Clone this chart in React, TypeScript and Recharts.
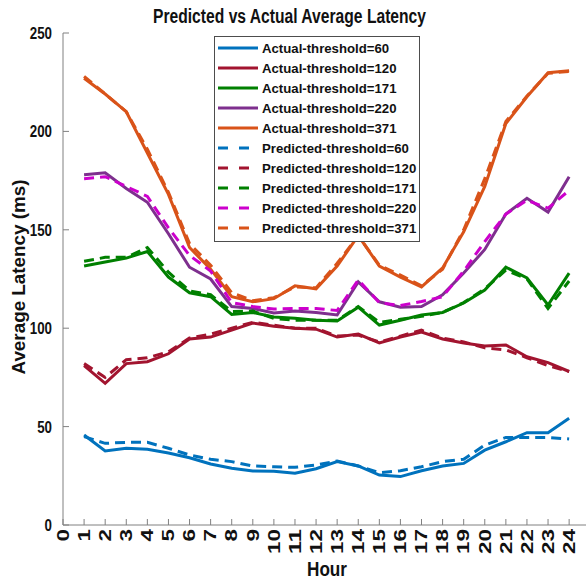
import React from 'react';
import { LineChart, Line, XAxis, YAxis, Legend } from 'recharts';

const hours = [1, 2, 3, 4, 5, 6, 7, 8, 9, 10, 11, 12, 13, 14, 15, 16, 17, 18, 19, 20, 21, 22, 23, 24];
const xTicks = [0, 1, 2, 3, 4, 5, 6, 7, 8, 9, 10, 11, 12, 13, 14, 15, 16, 17, 18, 19, 20, 21, 22, 23, 24];
const yTicks = [0, 50, 100, 150, 200, 250];

const actual60 = [45.7, 37.6, 39, 38.5, 36.6, 34.2, 31, 28.8, 27.4, 27.3, 26.3, 28.6, 32.2, 30, 25.4, 24.6, 27.6, 30, 31.3, 38, 42.3, 46.9, 46.9, 54.2];
const actual120 = [81, 72, 82, 83, 87, 94.5, 95.5, 99, 102.6, 101, 100, 99.5, 95.5, 97, 92.5, 95.5, 98, 94.5, 92.5, 91, 91.5, 85.5, 82.5, 78];
const actual171 = [131.6, 133.6, 135.6, 139, 126, 118, 116, 107, 108, 105.7, 105, 104, 103.7, 110.7, 101.6, 104, 106.7, 108, 112.8, 119.4, 131, 125.5, 111.8, 128];
const actual220 = [178, 179, 171, 164, 148, 131, 125, 111, 110, 107.7, 108.7, 108, 106.7, 123.5, 113.4, 110.7, 111, 117, 128, 140, 158, 166, 159, 177];
const actual371 = [227, 219, 210, 189, 168, 141, 130, 116, 113.4, 115, 121.5, 120, 131.6, 147, 131.6, 126, 121, 130.6, 149, 172, 204, 217.6, 229.8, 230.8];

const predicted60 = [44.9, 41.5, 42, 42, 39, 35.6, 33.4, 32.2, 30, 29.6, 29.3, 30.5, 32.5, 30, 26.6, 27.6, 29.6, 32.2, 33.4, 40.6, 44.5, 44.5, 44.5, 43.7];
const predicted120 = [82, 75, 84, 85, 88, 95, 97, 100, 103, 101.5, 100, 100, 96, 96.5, 93, 96, 99, 95, 93, 90, 89, 85, 81, 78];
const predicted171 = [134, 136, 136, 141, 128.5, 119, 117, 108.5, 108.7, 105, 104, 104, 104, 111, 103, 104.5, 106, 108, 113, 120, 129.5, 125, 110, 124];
const predicted220 = [176, 177, 172, 167, 151, 137, 129, 113, 111, 109.7, 110, 110, 109, 124.5, 113, 111.5, 113.6, 116, 129, 144, 158, 165, 161, 170];
const predicted371 = [228, 219, 210, 191, 169, 143, 132, 118, 114, 115.5, 121, 120.5, 133, 147, 132, 127, 121.5, 130, 150, 176, 205, 218, 229.5, 230.5];

const FONT = "'Liberation Sans', Arial, Helvetica, sans-serif";
const TEXT = '#111';
const AXIS = '#808080';

const series = [
  { key: 'a60', name: 'Actual-threshold=60', color: '#0072BD', dashed: false, values: actual60 },
  { key: 'a120', name: 'Actual-threshold=120', color: '#A2142F', dashed: false, values: actual120 },
  { key: 'a171', name: 'Actual-threshold=171', color: '#008000', dashed: false, values: actual171 },
  { key: 'a220', name: 'Actual-threshold=220', color: '#7E2F8E', dashed: false, values: actual220 },
  { key: 'a371', name: 'Actual-threshold=371', color: '#D95319', dashed: false, values: actual371 },
  { key: 'p60', name: 'Predicted-threshold=60', color: '#0072BD', dashed: true, values: predicted60 },
  { key: 'p120', name: 'Predicted-threshold=120', color: '#A2142F', dashed: true, values: predicted120 },
  { key: 'p171', name: 'Predicted-threshold=171', color: '#008000', dashed: true, values: predicted171 },
  { key: 'p220', name: 'Predicted-threshold=220', color: '#CC00CC', dashed: true, values: predicted220 },
  { key: 'p371', name: 'Predicted-threshold=371', color: '#D95319', dashed: true, values: predicted371 },
];

const data = hours.map((h, i) => {
  const row: Record<string, number> = { hour: h };
  series.forEach((s) => {
    row[s.key] = s.values[i];
  });
  return row;
});

function XTick({ x, payload }: any) {
  const label = String(payload.value);
  return (
    <text
      transform={`translate(${x},529) rotate(-90)`}
      textAnchor="end"
      dy="0.35em"
      fontSize={16.5}
      fontWeight="bold"
      fontFamily={FONT}
      fill={TEXT}
      textLength={label.length * 12.5}
      lengthAdjust="spacingAndGlyphs"
    >
      {label}
    </text>
  );
}

function YTick({ y, payload }: any) {
  const label = String(payload.value);
  return (
    <text
      x={52}
      y={y}
      dy="0.36em"
      textAnchor="end"
      fontSize={16.5}
      fontWeight="bold"
      fontFamily={FONT}
      fill={TEXT}
      textLength={label.length * 7.4}
      lengthAdjust="spacingAndGlyphs"
    >
      {label}
    </text>
  );
}

const NoTick = () => <g />;

function LegendBox() {
  return (
    <div style={{ width: 204, height: 204, border: '1px solid #4d4d4d', background: '#fff' }}>
      <svg width={204} height={204}>
        {series.map((s, i) => {
          const cy = 11 + i * 20;
          return (
            <g key={s.key}>
              <line
                x1={3}
                x2={43}
                y1={cy}
                y2={cy}
                stroke={s.color}
                strokeWidth={3}
                strokeDasharray={s.dashed ? '10 11' : undefined}
              />
              <text x={47} y={cy} dy="0.36em" fontSize={13.2} fontWeight="bold" fontFamily={FONT} fill={TEXT}>
                {s.name}
              </text>
            </g>
          );
        })}
      </svg>
    </div>
  );
}

export default function App() {
  return (
    <div style={{ position: 'absolute', left: 0, top: 0, width: 586, height: 580, background: '#fff' }}>
      <LineChart width={586} height={580} data={data} margin={{ top: 33, right: 0, bottom: 0, left: 0 }}>
        <XAxis
          xAxisId="x"
          dataKey="hour"
          type="number"
          domain={[0, 24.8]}
          allowDataOverflow
          ticks={xTicks}
          interval={0}
          height={55}
          tickSize={-6}
          stroke={AXIS}
          tick={<XTick />}
        />
        <XAxis
          xAxisId="top"
          orientation="top"
          type="number"
          domain={[0, 24.8]}
          allowDataOverflow
          ticks={xTicks}
          interval={0}
          height={0}
          tickSize={-6}
          stroke={AXIS}
          tick={NoTick}
        />
        <YAxis
          yAxisId="left"
          type="number"
          domain={[0, 250]}
          allowDataOverflow
          ticks={yTicks}
          interval={0}
          width={63}
          tickSize={-6}
          stroke={AXIS}
          tick={<YTick />}
        />
        <YAxis
          yAxisId="right"
          orientation="right"
          type="number"
          domain={[0, 250]}
          allowDataOverflow
          ticks={yTicks}
          interval={0}
          width={0}
          tickSize={-6}
          stroke={AXIS}
          tick={NoTick}
        />
        <Legend
          layout="vertical"
          align="center"
          verticalAlign="middle"
          content={() => <LegendBox />}
          wrapperStyle={{ left: 214, top: 36, width: 206, height: 206 }}
        />
        {series.map((s) => (
          <Line
            key={s.key}
            xAxisId="x"
            yAxisId="left"
            type="linear"
            dataKey={s.key}
            name={s.name}
            stroke={s.color}
            strokeWidth={3}
            strokeDasharray={s.dashed ? '10 6' : undefined}
            dot={false}
            activeDot={false}
            isAnimationActive={false}
          />
        ))}
      </LineChart>
      <svg width={586} height={580} style={{ position: 'absolute', left: 0, top: 0, pointerEvents: 'none' }}>
        <text
          x={289.5}
          y={23}
          textAnchor="middle"
          fontSize={19.5}
          fontWeight="bold"
          fontFamily={FONT}
          fill={TEXT}
          textLength={273}
          lengthAdjust="spacingAndGlyphs"
        >
          Predicted vs Actual Average Latency
        </text>
        <text
          transform="translate(25,277) rotate(-90)"
          textAnchor="middle"
          fontSize={18}
          fontWeight="bold"
          fontFamily={FONT}
          fill={TEXT}
          textLength={195}
          lengthAdjust="spacingAndGlyphs"
        >
          Average Latency (ms)
        </text>
        <text
          x={327}
          y={576}
          textAnchor="middle"
          fontSize={20}
          fontWeight="bold"
          fontFamily={FONT}
          fill={TEXT}
          textLength={40}
          lengthAdjust="spacingAndGlyphs"
        >
          Hour
        </text>
      </svg>
    </div>
  );
}
